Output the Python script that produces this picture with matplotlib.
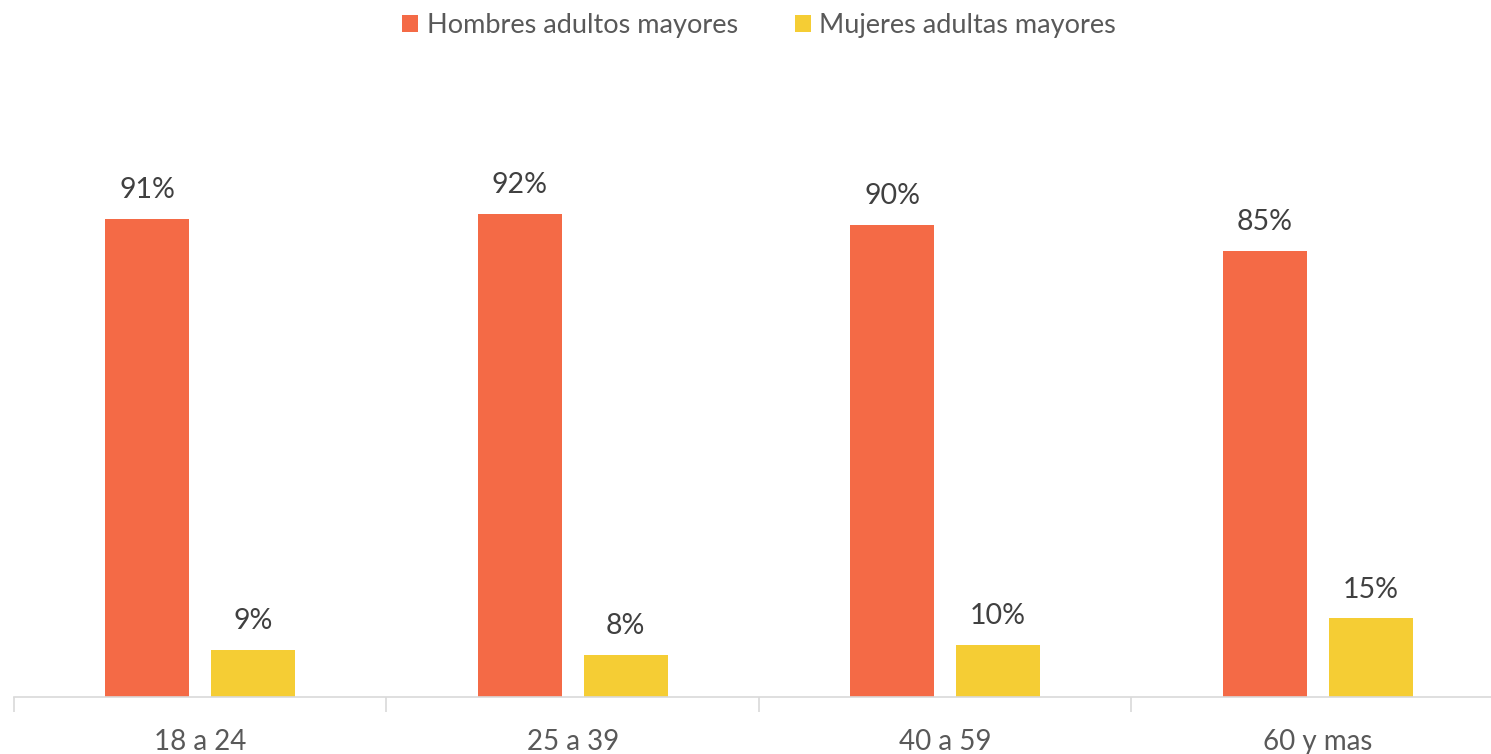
import numpy as np
import matplotlib
matplotlib.use("Agg")
import matplotlib.pyplot as plt

categorias = ["18 a 24", "25 a 39", "40 a 59", "60 y mas"]
hombres = [91, 92, 90, 85]
mujeres = [9, 8, 10, 15]
series = ["Hombres adultos mayores", "Mujeres adultas mayores"]

naranja = "#F46A46"
amarillo = "#F5CD34"

plt.rcParams["font.family"] = ["Lato", "DejaVu Sans"]

fig = plt.figure(figsize=(14.91, 7.54), dpi=100)
ax = fig.add_axes([14 / 1491, 57 / 754, 1477 / 1491, 525 / 754])

x = np.arange(len(categorias))
ancho = 0.225
desp = 0.142
b1 = ax.bar(x - desp, hombres, ancho, color=naranja, label=series[0])
b2 = ax.bar(x + desp, mujeres, ancho, color=amarillo, label=series[1])

for barras, vals in ((b1, hombres), (b2, mujeres)):
    for b, v in zip(barras, vals):
        ax.text(b.get_x() + b.get_width() / 2, v + 3.0, f"{v}%",
                ha="center", va="bottom", fontsize=20.5, color="#404040")

ax.set_ylim(0, 100)
ax.set_xlim(-0.5, -0.5 + 1477 / 372.5)
ax.set_yticks([])
ax.set_xticks(x)
ax.set_xticklabels(categorias, fontsize=20, color="#595959")
ax.set_xticks(np.arange(len(categorias)) - 0.5, minor=True)
ax.tick_params(axis="x", which="major", length=0, pad=23)
ax.tick_params(axis="x", which="minor", length=11, width=1.2, color="#D9D9D9")
for s in ["top", "right", "left"]:
    ax.spines[s].set_visible(False)
ax.spines["bottom"].set_color("#D9D9D9")
ax.spines["bottom"].set_linewidth(1.2)

fig.legend(handles=[b1, b2], loc="upper center", bbox_to_anchor=(0.509, 1.015),
           ncol=2, frameon=False, fontsize=19.5, labelcolor="#595959",
           handlelength=0.6, handleheight=0.6, handletextpad=0.3, columnspacing=2.1)

fig.savefig("out.png", dpi=100)
